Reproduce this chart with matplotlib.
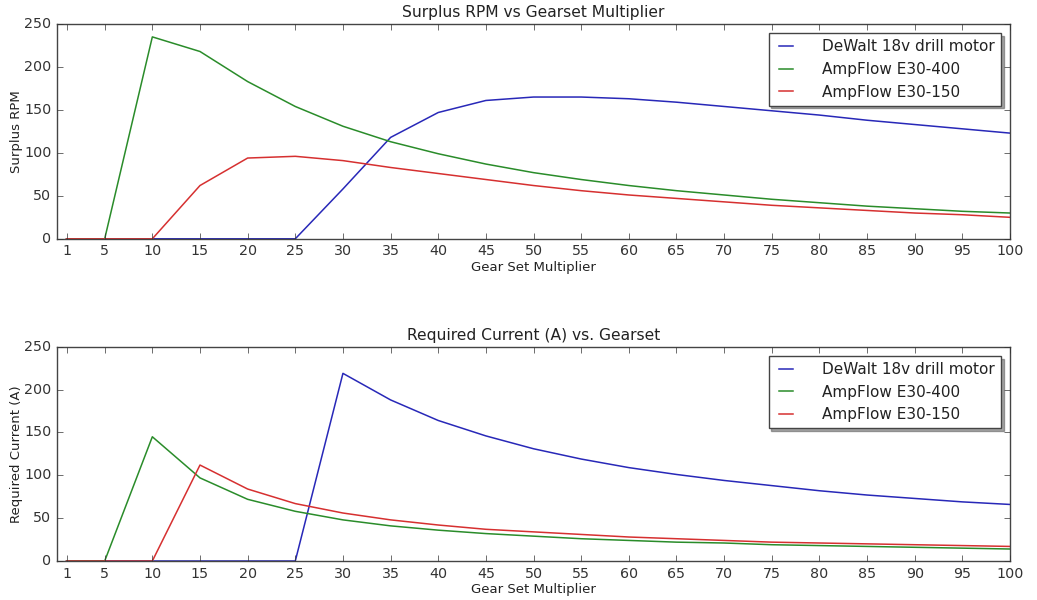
import matplotlib
matplotlib.use('Agg')
import matplotlib.pyplot as plt

# data -------------------------------------------------------------------------
gears = [1, 5, 10, 15, 20, 25, 30, 35, 40, 45, 50, 55, 60, 65, 70, 75, 80, 85, 90, 95, 100]
tick_labels = ['1', '5', '10', '15', '20', '25', '30', '35', '40', '45', '50',
               '55', '60', '65', '70', '75', '80', '85', '90', '95', '100']
labels = ['DeWalt 18v drill motor', 'AmpFlow E30-400', 'AmpFlow E30-150']

rpm_dewalt = [0, 0, 0, 0, 0, 0, 58, 118, 147, 161, 165, 165, 163, 159, 154, 149, 144, 138, 133, 128, 123]
rpm_e30_400 = [0, 0, 235, 218, 183, 154, 131, 113, 99, 87, 77, 69, 62, 56, 51, 46, 42, 38, 35, 32, 30]
rpm_e30_150 = [0, 0, 0, 62, 94, 96, 91, 83, 76, 69, 62, 56, 51, 47, 43, 39, 36, 33, 30, 28, 25]

amp_dewalt = [0, 0, 0, 0, 0, 0, 219, 188, 164, 146, 131, 119, 109, 101, 94, 88, 82, 77, 73, 69, 66]
amp_e30_400 = [0, 0, 145, 97, 72, 58, 48, 41, 36, 32, 29, 26, 24, 22, 21, 19, 18, 17, 16, 15, 14]
amp_e30_150 = [0, 0, 0, 112, 84, 67, 56, 48, 42, 37, 34, 31, 28, 26, 24, 22, 21, 20, 19, 18, 17]

# -------------------------------------------
plt.style.use('classic')
plt.rcParams['font.size'] = 10.3
plt.rcParams['text.color'] = '#222222'
plt.rcParams['axes.labelcolor'] = '#222222'
plt.rcParams['xtick.color'] = '#333333'
plt.rcParams['ytick.color'] = '#333333'
plt.rcParams['axes.edgecolor'] = '#444444'

fig = plt.figure(figsize=(10.37, 6.0), dpi=100, facecolor='white')
ax1 = fig.add_axes([0.055, 0.602, 0.919, 0.358])
ax2 = fig.add_axes([0.055, 0.065, 0.919, 0.357])


def draw(ax, series, title, ylabel):
    for ys, lab, col in zip(series, labels, ['#2828b8', '#2a8c2a', '#d63030']):
        ax.plot(gears, ys, color=col, label=lab, linewidth=1.1)
    ax.set_xlim(0, 100)
    ax.set_ylim(0, 250)
    ax.set_xticks(gears)
    ax.set_xticklabels(tick_labels)
    ax.set_title(title, fontsize=11.2)
    ax.set_xlabel('Gear Set Multiplier', fontsize=9.5, labelpad=2)
    ax.set_ylabel(ylabel, fontsize=9.5, labelpad=1)
    ax.legend(loc='upper right', shadow=True, fontsize=11, handlelength=1.5,
              handletextpad=1.6, borderaxespad=0.6)


draw(ax1, [rpm_dewalt, rpm_e30_400, rpm_e30_150], 'Surplus RPM vs Gearset Multiplier', 'Surplus RPM')
draw(ax2, [amp_dewalt, amp_e30_400, amp_e30_150], 'Required Current (A) vs. Gearset', 'Required Current (A)')

plt.savefig('out.png', dpi=100, facecolor='white')
